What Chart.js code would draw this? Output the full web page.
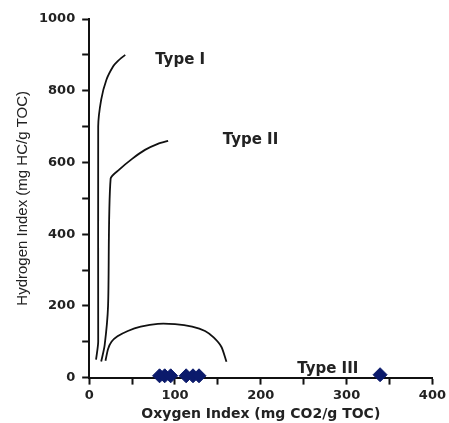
<!DOCTYPE html>
<html>
<head>
<meta charset="utf-8">
<script src="https://cdn.jsdelivr.net/npm/chart.js@4/dist/chart.umd.min.js"></script>
<style>
	html, body { margin: 0; padding: 0; background: #fff; }
	#wrap { width: 449px; height: 423px; }
</style>
</head>
<body>
<div id="wrap"><canvas id="vanKrevelen"></canvas></div>
<script>
// kerogen type envelopes (OI, HI)
var typeOneOI = [8, 10.5, 10.5, 14, 20, 28, 33, 42];
var typeOneHI = [50, 100, 700, 775, 830, 868, 882, 900];
var typeTwoOI = [14, 18, 22, 25, 35, 50, 65, 80, 92];
var typeTwoHI = [45, 90, 200, 555, 580, 610, 635, 652, 660];
var typeThreeOI = [19, 22, 26, 33, 45, 60, 80, 100, 120, 135, 145, 154, 160];
var typeThreeHI = [47, 80, 100, 115, 130, 142, 150, 149, 142, 130, 112, 86, 44];

// samples
var sampleOI = [82, 88, 95, 113, 121, 128, 339];
var sampleHI = [5, 5, 5, 5, 5, 5, 8];

// curve labels
var typeLabels = ['Type I', 'Type II', 'Type III'];
var typeLabelOI = [106, 188, 278];
var typeLabelHI = [886, 661, 25];

var FONT = '"Liberation Sans", Arial, sans-serif';
var BOLD = '"DejaVu Sans", sans-serif';

function toPoints(xs, ys) {
	return xs.map(function (x, i) { return { x: x, y: ys[i] }; });
}

function curve(label, xs, ys) {
	return {
		label: label,
		type: 'line',
		data: toPoints(xs, ys),
		borderColor: '#111',
		borderWidth: 1.8,
		pointRadius: 0,
		tension: 0.25,
		fill: false
	};
}

var typeLabelPlugin = {
	id: 'typeLabels',
	afterDatasetsDraw: function (chart) {
		var ctx = chart.ctx;
		var xs = chart.scales.x, ys = chart.scales.y;
		ctx.save();
		ctx.font = 'bold 15px ' + BOLD;
		ctx.fillStyle = '#222';
		ctx.textAlign = 'center';
		ctx.textBaseline = 'middle';
		typeLabels.forEach(function (t, i) {
			ctx.fillText(t, xs.getPixelForValue(typeLabelOI[i]), ys.getPixelForValue(typeLabelHI[i]));
		});
		ctx.restore();
	}
};

var vanKrevelenData = {
	datasets: [
		curve('Type I', typeOneOI, typeOneHI),
		curve('Type II', typeTwoOI, typeTwoHI),
		curve('Type III', typeThreeOI, typeThreeHI),
		{
			label: 'Samples',
			type: 'scatter',
			data: toPoints(sampleOI, sampleHI),
			pointStyle: 'rectRot',
			pointRadius: 7,
			backgroundColor: '#0b1a6b',
			borderColor: '#0b1a6b',
			borderWidth: 1,
			clip: false
		}
	]
};

var vanKrevelenOptions = {
	responsive: true,
	maintainAspectRatio: false,
	animation: false,
	layout: {
		padding: { top: 19, left: 14, right: -5, bottom: 0 }
	},
	scales: {
		x: {
			type: 'linear',
			min: 0,
			max: 400,
			grid: {
				drawOnChartArea: false,
				drawTicks: true,
				tickLength: 7,
				tickColor: '#111',
				tickWidth: 2
			},
			border: { display: true, color: '#111', width: 2 },
			ticks: {
				stepSize: 50,
				color: '#222',
				padding: 3,
				maxRotation: 0,
				autoSkip: false,
				font: { family: BOLD, size: 13, weight: 'bold' },
				callback: function (value) {
					return value % 100 === 0 ? value : '';
				}
			},
			title: {
				display: true,
				text: 'Oxygen Index (mg CO2/g TOC)',
				color: '#222',
				font: { family: BOLD, size: 14, weight: 'bold' },
				padding: { top: 0, bottom: 0 }
			}
		},
		y: {
			type: 'linear',
			min: 0,
			max: 1000,
			grid: {
				drawOnChartArea: false,
				drawTicks: true,
				tickLength: 7,
				tickColor: '#111',
				tickWidth: 2
			},
			border: { display: true, color: '#111', width: 2 },
			ticks: {
				stepSize: 100,
				color: '#222',
				padding: 7,
				autoSkip: false,
				font: { family: BOLD, size: 13, weight: 'bold' },
				callback: function (value) {
					return value % 200 === 0 ? value : '';
				}
			},
			title: {
				display: true,
				text: 'Hydrogen Index (mg HC/g TOC)',
				color: '#222',
				font: { family: FONT, size: 15 },
				padding: { top: 0, bottom: 0 }
			}
		}
	},
	plugins: {
		legend: { display: false },
		tooltip: { enabled: false },
		title: { display: false }
	}
};

var vanKrevelenChart = new Chart(document.getElementById('vanKrevelen'), {
	type: 'scatter',
	data: vanKrevelenData,
	options: vanKrevelenOptions,
	plugins: [typeLabelPlugin]
});
</script>
</body>
</html>
